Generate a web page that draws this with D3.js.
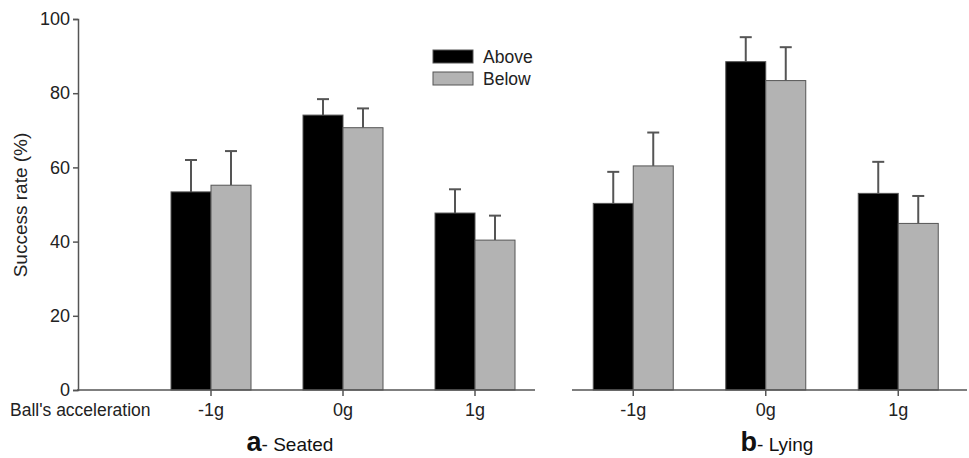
<!DOCTYPE html>
<html>
<head>
<meta charset="utf-8">
<script src="https://cdn.jsdelivr.net/npm/d3@7"></script>
<style>
  body { margin: 0; background: #fff; }
  svg { font-family: "Liberation Sans", Arial, sans-serif; }
</style>
</head>
<body>
<div id="chart"></div>
<script>
// data
var categories = ["-1g", "0g", "1g"];
var seriesNames = ["Above", "Below"];
var seatedAbove = [53.4, 74.1, 47.7];
var seatedBelow = [55.2, 70.7, 40.4];
var seatedAboveErr = [62.0, 78.4, 54.1];
var seatedBelowErr = [64.4, 75.9, 47.0];
var lyingAbove = [50.3, 88.5, 53.0];
var lyingBelow = [60.4, 83.4, 44.9];
var lyingAboveErr = [58.8, 95.1, 61.5];
var lyingBelowErr = [69.4, 92.4, 52.3];
var yTicks = [0, 20, 40, 60, 80, 100];

var width = 969, height = 458;
var axisCol = "#555";
var fills = {"Above": "#000", "Below": "#b3b3b3"};

var svg = d3.select("#chart").append("svg")
    .attr("width", width).attr("height", height);

var y = d3.scaleLinear().domain([0, 100]).range([390, 19]);

function panel(opts){
    var x = d3.scaleBand().domain(categories).range(opts.range);
    var x1 = d3.scaleBand().domain(seriesNames).range([x.bandwidth()/2 - 40, x.bandwidth()/2 + 40]);
    var g = svg.append("g");

    var rows = [];
    categories.forEach(function(c, i){
        rows.push({cat: c, s: "Above", v: opts.above[i], e: opts.aboveErr[i]});
        rows.push({cat: c, s: "Below", v: opts.below[i], e: opts.belowErr[i]});
    });

    // error whiskers (upper only)
    rows.forEach(function(d){
        var cx = x(d.cat) + x1(d.s) + x1.bandwidth()/2;
        g.append("line")
            .attr("x1", cx).attr("x2", cx)
            .attr("y1", y(d.v)).attr("y2", y(d.e))
            .attr("stroke", axisCol).attr("stroke-width", 2);
        g.append("line")
            .attr("x1", cx - 6).attr("x2", cx + 6)
            .attr("y1", y(d.e)).attr("y2", y(d.e))
            .attr("stroke", axisCol).attr("stroke-width", 2);
    });

    g.selectAll("rect.bar").data(rows).enter().append("rect")
        .attr("class", "bar")
        .attr("x", function(d){ return x(d.cat) + x1(d.s); })
        .attr("width", x1.bandwidth())
        .attr("y", function(d){ return y(d.v); })
        .attr("height", function(d){ return y(0) - y(d.v); })
        .attr("fill", function(d){ return fills[d.s]; })
        .attr("stroke", axisCol).attr("stroke-width", 1);

    // x axis line + ticks
    g.append("line")
        .attr("x1", opts.axisFrom).attr("x2", opts.axisTo)
        .attr("y1", y(0)).attr("y2", y(0))
        .attr("stroke", axisCol).attr("stroke-width", 1.5);
    categories.forEach(function(c){
        var cx = x(c) + x.bandwidth()/2;
        g.append("line")
            .attr("x1", cx).attr("x2", cx)
            .attr("y1", y(0)).attr("y2", y(0) + 6)
            .attr("stroke", axisCol).attr("stroke-width", 1.5);
        g.append("text")
            .attr("x", cx).attr("y", 416)
            .attr("text-anchor", "middle")
            .style("font-size", "18px").attr("fill", "#222")
            .text(c);
    });

    var t = g.append("text")
        .attr("x", opts.titleX).attr("y", 451)
        .attr("text-anchor", "middle").attr("fill", "#111");
    t.append("tspan").style("font-size", "27px").style("font-weight", "bold").text(opts.letter);
    t.append("tspan").style("font-size", "19px").text("- " + opts.title);
    return g;
}

panel({range: [145, 541], axisFrom: 77, axisTo: 535,
       above: seatedAbove, below: seatedBelow,
       aboveErr: seatedAboveErr, belowErr: seatedBelowErr,
       letter: "a", title: "Seated", titleX: 290});
panel({range: [567, 964.5], axisFrom: 572, axisTo: 967,
       above: lyingAbove, below: lyingBelow,
       aboveErr: lyingAboveErr, belowErr: lyingBelowErr,
       letter: "b", title: "Lying", titleX: 777});

// y axis
var yAxis = d3.axisLeft(y).tickValues(yTicks).tickSize(5).tickPadding(3);
var ya = svg.append("g").attr("transform", "translate(78,0)").call(yAxis);
ya.select(".domain").attr("stroke", axisCol).attr("stroke-width", 1.5);
ya.selectAll(".tick line").attr("stroke", axisCol).attr("stroke-width", 1.5);
ya.selectAll(".tick text").style("font-size", "18px").attr("fill", "#222")
    .style("font-family", "Liberation Sans, Arial, sans-serif");

svg.append("text")
    .attr("transform", "translate(27,205) rotate(-90)")
    .attr("text-anchor", "middle")
    .style("font-size", "19px").attr("fill", "#222")
    .text("Success rate (%)");

svg.append("text")
    .attr("x", 10).attr("y", 416)
    .style("font-size", "17.5px").attr("fill", "#222")
    .text("Ball's acceleration");

// legend
var leg = svg.append("g").attr("transform", "translate(433,50)");
seriesNames.forEach(function(s, i){
    leg.append("rect")
        .attr("x", 0).attr("y", i * 22)
        .attr("width", 40).attr("height", 13)
        .attr("fill", fills[s]).attr("stroke", axisCol).attr("stroke-width", 1);
    leg.append("text")
        .attr("x", 50).attr("y", i * 22 + 13)
        .style("font-size", "17.5px").attr("fill", "#222")
        .text(s);
});
</script>
</body>
</html>
